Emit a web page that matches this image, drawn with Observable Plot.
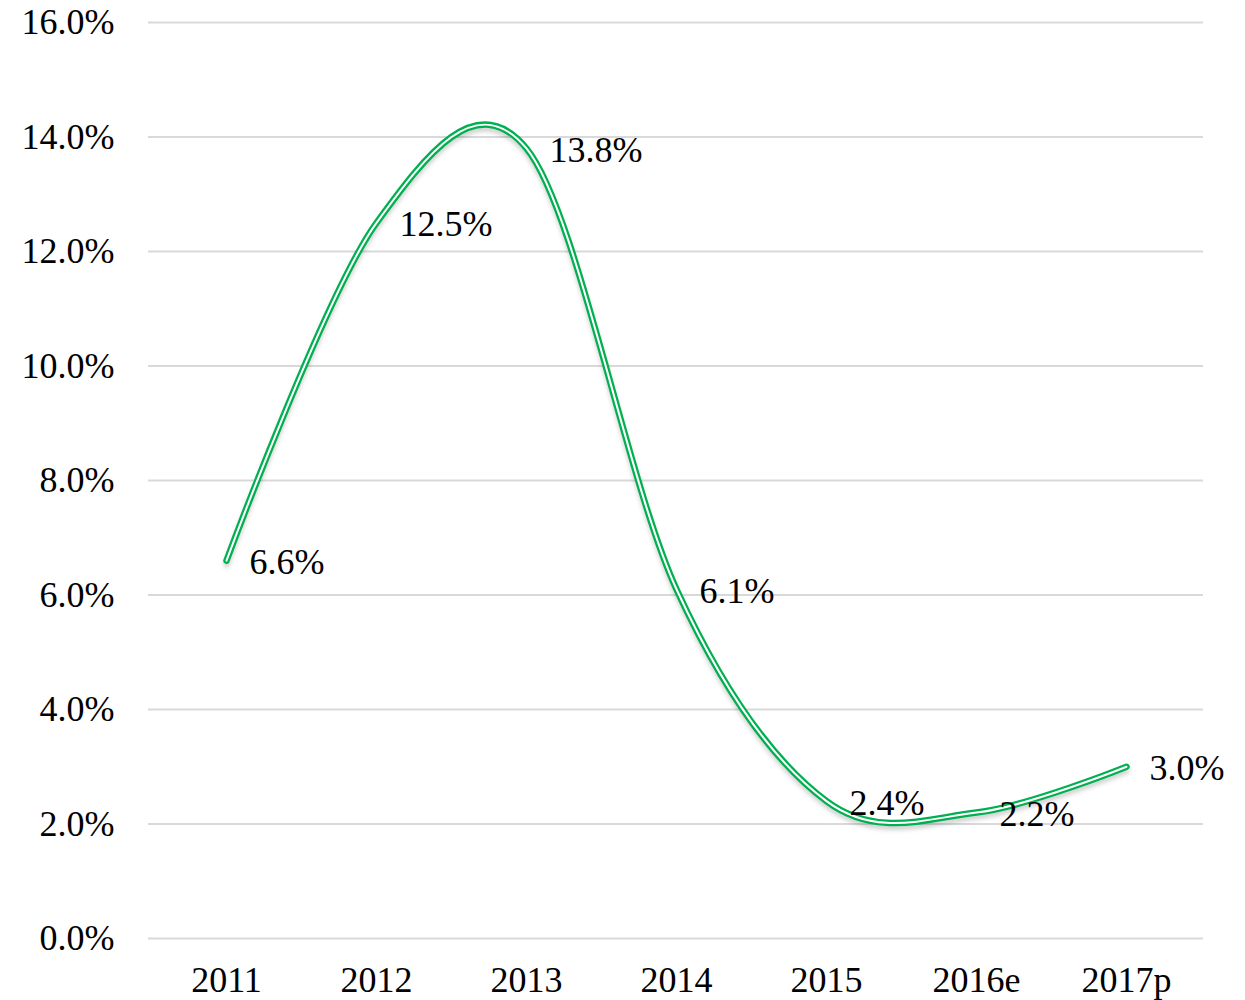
<!DOCTYPE html>
<html>
<head>
<meta charset="utf-8">
<script src="https://cdn.jsdelivr.net/npm/d3@7"></script>
<script src="https://cdn.jsdelivr.net/npm/@observablehq/plot@0.6"></script>
<style>
  html, body { margin: 0; padding: 0; background: #fff; }
  #chart svg { display: block; }
</style>
</head>
<body>
<div id="chart"></div>
<script>
const years = ["2011", "2012", "2013", "2014", "2015", "2016e", "2017p"];
const growth = [6.6, 12.5, 13.8, 6.1, 2.4, 2.2, 3.0];
const yTicks = [0, 2, 4, 6, 8, 10, 12, 14, 16];

const data = years.map((y, i) => ({year: y, value: growth[i]}));
const green = "#00B050";
const font = "'Liberation Serif', 'Times New Roman', serif";

const chart = Plot.plot({
  width: 1245,
  height: 1000,
  marginTop: 22,
  marginBottom: 62,
  marginLeft: 148,
  marginRight: 42,
  style: {fontFamily: font, fontSize: "36px", color: "#000", background: "#fff"},
  x: {type: "point", domain: years, padding: 0.5, label: null, tickSize: 0, tickPadding: 28},
  y: {domain: [0, 16], ticks: yTicks, label: null, tickSize: 0, tickPadding: 34,
      tickFormat: d => d.toFixed(1) + "%"},
  marks: [
    Plot.ruleY(yTicks, {stroke: "#d9d9d9", strokeWidth: 2}),
    Plot.line(data, {x: "year", y: "value", curve: "cardinal", stroke: "#000",
      strokeOpacity: 0.18, strokeWidth: 6, dy: 4, className: "shadow"}),
    Plot.line(data, {x: "year", y: "value", curve: "cardinal", stroke: green,
      strokeWidth: 6.5, strokeLinecap: "round"}),
    Plot.line(data, {x: "year", y: "value", curve: "cardinal", stroke: "#fff",
      strokeWidth: 2, strokeLinecap: "round"}),
    Plot.text(data, {x: "year", y: "value", text: d => d.value.toFixed(1) + "%",
      textAnchor: "start", dx: 23, dy: 2, fill: "#000", fontSize: 36})
  ]
});
chart.querySelectorAll(".shadow path").forEach(p => p.style.filter = "blur(2px)");
document.getElementById("chart").appendChild(chart);
</script>
</body>
</html>
